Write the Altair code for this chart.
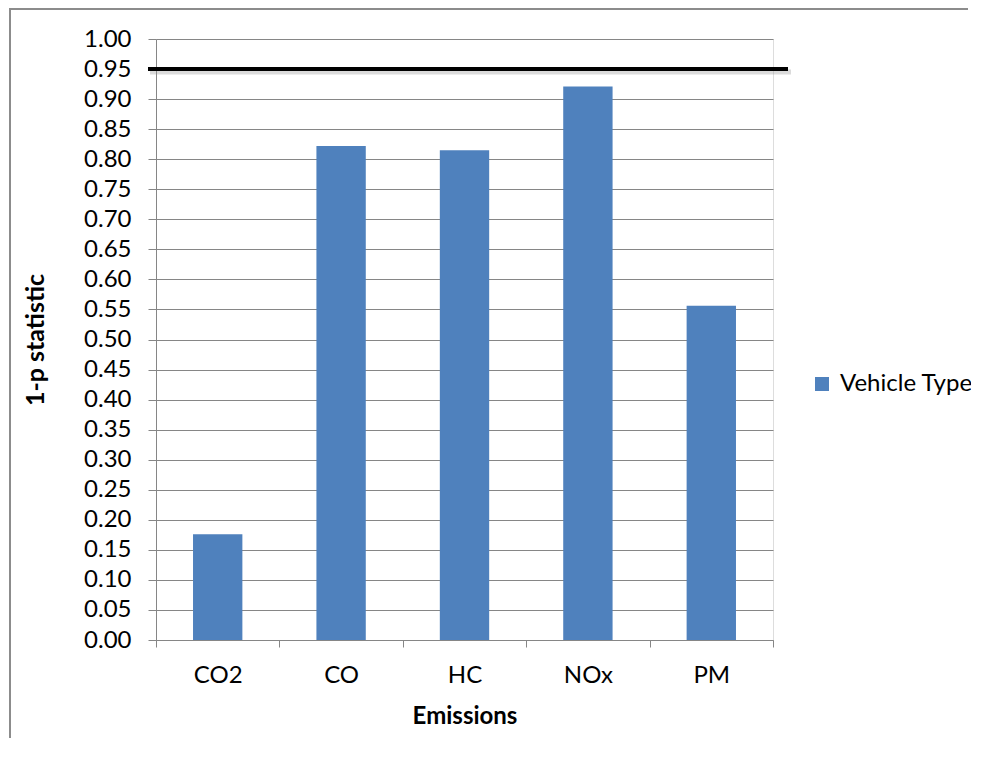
import altair as alt
import pandas as pd

categories = ["CO2", "CO", "HC", "NOx", "PM"]
values = [0.176, 0.822, 0.815, 0.921, 0.556]
series_name = "Vehicle Type"
threshold = 0.95
y_ticks = [round(i * 0.05, 2) for i in range(21)]

df = pd.DataFrame({"Emissions": categories, "value": values, "series": [series_name] * len(categories)})

FONT = "Lato"
GRID = "#868686"
W, H = 617, 601

y_axis = alt.Axis(title="1-p statistic", values=y_ticks, format=".2f",
                  labelFontSize=24, labelFont=FONT, labelColor="#000000",
                  labelPadding=17, tickSize=8, tickColor=GRID, domainColor=GRID,
                  gridColor=GRID, gridWidth=1.2, labelOverlap=False,
                  titleFont=FONT, titleFontSize=25, titleFontWeight="bold",
                  titleColor="#000000", titleX=-121, titleY=H / 2,
                  titleBaseline="middle", titleAlign="center")
y_scale = alt.Scale(domain=[0, 1], nice=False)

bars = alt.Chart(df).mark_bar(width=alt.RelativeBandSize(0.4), color="#4F81BD").encode(
    x=alt.X("Emissions:N", sort=categories,
            scale=alt.Scale(paddingInner=0, paddingOuter=0),
            axis=alt.Axis(title="Emissions", labelAngle=0, tickBand="extent",
                          labelFontSize=24, labelFont=FONT, labelColor="#000000",
                          labelPadding=16, tickSize=7, tickColor=GRID, domainColor=GRID,
                          labelOverlap=False,
                          titleFont=FONT, titleFontSize=24, titleFontWeight="bold",
                          titleColor="#000000", titleY=76, titleBaseline="middle")),
    y=alt.Y("value:Q", scale=y_scale, axis=y_axis),
    fill=alt.Fill("series:N", scale=alt.Scale(range=["#4F81BD"]),
                  legend=alt.Legend(title=None, orient="none", legendX=654, legendY=333,
                                    symbolType="square", symbolSize=196, symbolStrokeWidth=0,
                                    labelFont=FONT, labelFontSize=24, labelColor="#000000",
                                    labelOffset=6)),
)

thr_df = pd.DataFrame({"t": [threshold]})
shadow = alt.Chart(thr_df).mark_rule(color="#999999", opacity=0.35, strokeWidth=5, clip=False).encode(
    y=alt.Y("t:Q", scale=y_scale, axis=y_axis), x=alt.value(-6), x2=alt.value(635), yOffset=alt.value(3)
)
line = alt.Chart(thr_df).mark_rule(color="#000000", strokeWidth=4, clip=False).encode(
    y=alt.Y("t:Q", scale=y_scale, axis=y_axis), x=alt.value(-8), x2=alt.value(632)
)

frame_left = alt.Chart(thr_df).mark_rule(color="#8c8c8c", strokeWidth=2, clip=False).encode(
    x=alt.value(-146), y=alt.value(-30), y2=alt.value(720)
)
frame_top = alt.Chart(thr_df).mark_rule(color="#8c8c8c", strokeWidth=2, clip=False).encode(
    x=alt.value(-147), x2=alt.value(812), y=alt.value(-30)
)

chart = alt.layer(bars, shadow, line, frame_left, frame_top).properties(
    width=W, height=H,
    autosize=alt.AutoSizeParams(type="none"),
    padding={"left": 148, "top": 31, "right": 198, "bottom": 98},
).configure_view(strokeWidth=0).configure(background="#ffffff")

chart.save("out.html", embed_options={"renderer": "svg", "actions": False})
